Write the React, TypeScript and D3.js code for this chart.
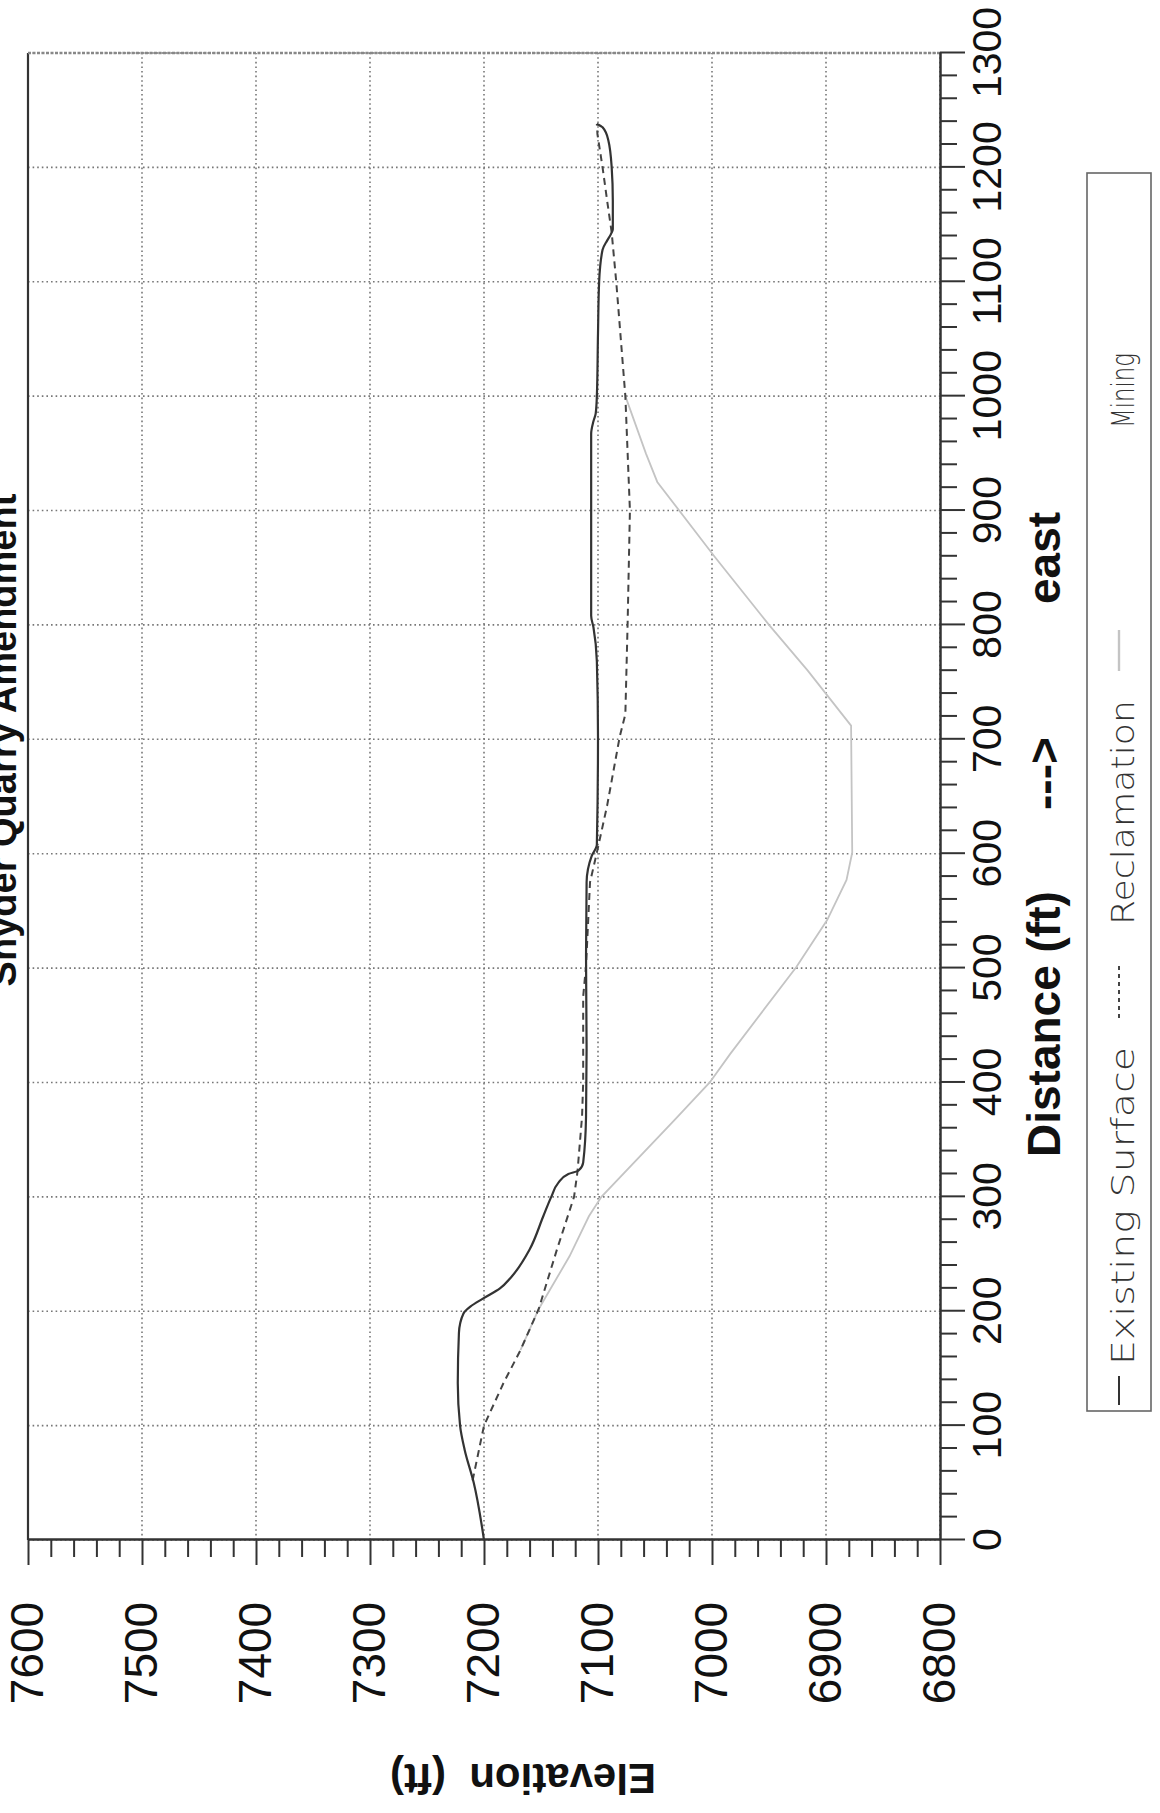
import React, { useEffect, useRef } from "react";
import * as d3 from "d3";

// the scanned sheet is turned a quarter turn, so the chart is drawn upright
// in a 1813 x 1160 frame and the whole frame is rotated onto the page
const PAGE_W = 1160;
const PAGE_H = 1813;

const TITLE = "Snyder Quarry Amendment";
const X_TITLE = ["Distance (ft)", "--->", "east"];
const Y_TITLE = "Elevation  (ft)";
const LEGEND = ["Existing Surface", "Reclamation", "Mining"];

// profile: distance (ft) -> elevation (ft)
const existingDist = [0, 50, 79, 100, 137, 181, 198, 204, 211, 220, 230, 254, 283, 300, 312, 320, 323, 330, 370, 430, 510, 575, 598, 608, 702, 768, 798, 808, 909, 967, 978, 985, 1000, 1055, 1100, 1128, 1136, 1141, 1146, 1171, 1200, 1224, 1235, 1238];
const existingElev = [7200, 7209, 7217, 7221, 7223, 7222, 7218, 7212, 7201, 7186, 7176, 7160, 7148, 7141, 7135, 7126, 7117, 7113, 7110.5, 7110, 7110.5, 7110, 7105.5, 7101, 7100, 7101, 7104, 7106, 7106, 7106, 7104, 7102, 7101, 7100, 7099, 7096, 7092, 7089, 7087, 7087, 7088, 7091, 7096, 7101];

const reclDist = [52, 100, 137, 166, 202, 254, 300, 322, 370, 400, 475, 502, 575, 601, 642, 702, 722, 802, 900, 1000, 1100, 1143, 1171, 1200, 1229, 1238];
const reclElev = [7210, 7200, 7183, 7168, 7152, 7136, 7121, 7118, 7114, 7113, 7113, 7110.5, 7107, 7101, 7092, 7081, 7076, 7074, 7072, 7076, 7084, 7088, 7092, 7096, 7100.5, 7101];

const miningDist = [166, 202, 248, 283, 300, 366, 400, 425, 501, 542, 577, 601, 712, 760, 800, 860, 925, 950, 1000];
const miningElev = [7168, 7152, 7125, 7108, 7097, 7034, 7002, 6984, 6926, 6899, 6882, 6877, 6878, 6916, 6950, 6998, 7048, 7058, 7076];

const distTicks = d3.range(0, 1301, 100);
const distMinor = d3.range(0, 1301, 20).filter(d => d % 100 !== 0);
const elevTicks = d3.range(6800, 7601, 100);
const elevMinor = d3.range(6800, 7601, 20).filter(d => d % 100 !== 0);

const SANS = "'Liberation Sans', Arial, sans-serif";

export default function App() {
  const ref = useRef<SVGSVGElement>(null);

  useEffect(() => {
    const svg = d3.select(ref.current);
    svg.selectAll("*").remove();

    const g = svg.append("g").attr("transform", `translate(0,${PAGE_H}) rotate(-90)`);

    const x = d3.scaleLinear().domain([0, 1300]).range([273, 1760]);
    const y = d3.scaleLinear().domain([6800, 7600]).range([940, 28]);

    // dotted grid
    const grid = g.append("g").attr("stroke", "#777").attr("stroke-width", 1.6).attr("stroke-dasharray", "1.6 3");
    grid.selectAll("line.h").data(elevTicks).join("line").attr("class", "h")
      .attr("x1", x(0)).attr("x2", x(1300))
      .attr("y1", d => y(d)).attr("y2", d => y(d));
    grid.selectAll("line.v").data(distTicks).join("line").attr("class", "v")
      .attr("x1", d => x(d)).attr("x2", d => x(d))
      .attr("y1", y(7600)).attr("y2", y(6800));

    // frame edges that are not axes
    g.append("line").attr("x1", x(0)).attr("x2", x(1300)).attr("y1", y(7600)).attr("y2", y(7600))
      .attr("stroke", "#333").attr("stroke-width", 2.2);
    g.append("line").attr("x1", x(1300)).attr("x2", x(1300)).attr("y1", y(7600)).attr("y2", y(6800))
      .attr("stroke", "#888").attr("stroke-width", 2.6).attr("stroke-dasharray", "3 1.5");

    // axes
    const styleAxis = (sel: any) => {
      sel.select(".domain").attr("stroke", "#333").attr("stroke-width", 2);
      sel.selectAll(".tick line").attr("stroke", "#333").attr("stroke-width", 2);
      sel.attr("font-family", SANS).selectAll("text").attr("fill", "#111");
    };

    const xAxisG = g.append("g").attr("transform", `translate(0,${y(6800)})`);
    xAxisG.append("g")
      .call(d3.axisBottom(x).tickValues(distMinor).tickSize(17).tickSizeOuter(0).tickFormat(() => ""))
      .call(styleAxis);
    xAxisG.append("g")
      .call(d3.axisBottom(x).tickValues(distTicks).tickSize(25).tickSizeOuter(0).tickPadding(7).tickFormat(d3.format("d")))
      .call(styleAxis)
      .attr("font-size", 41);

    const yAxisG = g.append("g").attr("transform", `translate(${x(0)},0)`);
    yAxisG.append("g")
      .call(d3.axisLeft(y).tickValues(elevMinor).tickSize(17).tickSizeOuter(0).tickFormat(() => ""))
      .call(styleAxis);
    yAxisG.append("g")
      .call(d3.axisLeft(y).tickValues(elevTicks).tickSize(25).tickSizeOuter(0).tickFormat(d3.format("d")))
      .call(styleAxis)
      .attr("font-size", 46)
      .selectAll("text")
      .attr("text-anchor", "middle")
      .attr("x", -113);

    // series
    const existing = d3.line<number>()
      .x(i => x(existingDist[i])).y(i => y(existingElev[i]))
      .curve(d3.curveMonotoneX);
    const recl = d3.line<number>()
      .x(i => x(reclDist[i])).y(i => y(reclElev[i]));
    const mining = d3.line<number>()
      .x(i => x(miningDist[i])).y(i => y(miningElev[i]));

    g.append("path").attr("d", mining(d3.range(miningDist.length)))
      .attr("fill", "none").attr("stroke", "#c4c4c4").attr("stroke-width", 1.8);
    g.append("path").attr("d", recl(d3.range(reclDist.length)))
      .attr("fill", "none").attr("stroke", "#444").attr("stroke-width", 2).attr("stroke-dasharray", "7 5");
    g.append("path").attr("d", existing(d3.range(existingDist.length)))
      .attr("fill", "none").attr("stroke", "#333").attr("stroke-width", 2.2);

    // titles (the sheet title is cut by the page edge in the scan)
    g.append("text").attr("x", 1073).attr("y", 16).attr("text-anchor", "middle")
      .attr("font-family", SANS).attr("font-weight", "bold").attr("font-size", 38).attr("fill", "#111")
      .text(TITLE);

    const xt = g.append("text").attr("y", 1060)
      .attr("font-family", SANS).attr("font-weight", "bold").attr("font-size", 46).attr("fill", "#111");
    [656, 1003, 1209].forEach((px, i) => xt.append("tspan").attr("x", px).text(X_TITLE[i]));

    g.append("text").attr("transform", `translate(49,523) rotate(-90)`).attr("text-anchor", "middle")
      .attr("font-family", SANS).attr("font-weight", "bold").attr("font-size", 42).attr("fill", "#111")
      .style("white-space", "pre")
      .text(Y_TITLE);

    // legend
    const lg = g.append("g");
    lg.append("rect").attr("x", 402).attr("y", 1087).attr("width", 1238).attr("height", 64)
      .attr("fill", "none").attr("stroke", "#666").attr("stroke-width", 1.6);
    const samples = [
      { x1: 408, x2: 437, stroke: "#333", dash: null, w: 2 },
      { x1: 795, x2: 847, stroke: "#444", dash: "4 4", w: 2 },
      { x1: 1142, x2: 1183, stroke: "#c4c4c4", dash: null, w: 2.4 },
    ];
    samples.forEach(s => {
      lg.append("line").attr("x1", s.x1).attr("x2", s.x2).attr("y1", 1119).attr("y2", 1119)
        .attr("stroke", s.stroke).attr("stroke-width", s.w).attr("stroke-dasharray", s.dash);
    });
    const labelPos = [
      { x: 448, len: 318 },
      { x: 888, len: 225 },
      { x: 1385, len: 75 },
    ];
    LEGEND.forEach((t, i) => {
      lg.append("text").attr("x", labelPos[i].x).attr("y", 1134)
        .attr("font-family", "'DejaVu Sans', sans-serif").attr("font-weight", 300).attr("font-size", 32)
        .attr("fill", "#333").attr("textLength", labelPos[i].len).attr("lengthAdjust", "spacingAndGlyphs")
        .text(t);
    });
  }, []);

  return (
    <svg
      ref={ref}
      width={PAGE_W}
      height={PAGE_H}
      style={{ position: "absolute", left: 0, top: 0, background: "#fff" }}
    />
  );
}
